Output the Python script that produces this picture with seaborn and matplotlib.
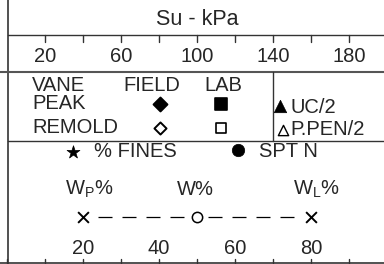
import numpy as np
import pandas as pd
import matplotlib.pyplot as plt
import seaborn as sns

# scales
su_ticks = [20, 40, 60, 80, 100, 120, 140, 160, 180]
su_labels = [20, 60, 100, 140, 180]
wc_ticks = [0, 10, 20, 30, 40, 50, 60, 70, 80, 90]
wc_labels = [20, 40, 60, 80]
# vane legend
vane_rows = ['PEAK', 'REMOLD']
vane_fill = ['black', 'white']
# Atterberg limits legend (W_P, W, W_L)
limit_vals = [20, 50, 80]
limit_names = [r'W$_\mathregular{P}$%', 'W%', r'W$_\mathregular{L}$%']

sns.set_style('white')
plt.rcParams['font.family'] = ['Liberation Sans', 'DejaVu Sans']
plt.rcParams['mathtext.fontset'] = 'custom'
plt.rcParams['mathtext.rm'] = 'Liberation Sans'

fig = plt.figure(figsize=(3.84, 2.64), dpi=100)
ax = fig.add_axes([0, 0, 1, 1])
px = lambda p: (p - 7) / 1.9   # pixel column -> Su value
ax.set_xlim(px(0), px(384))
ax.set_ylim(264, 0)
ax.axis('off')

lc = '#333333'
fs = 14.5

# frame
ax.plot([px(8), px(8)], [0, 264], color=lc, lw=1.2)
ax.plot([px(8), px(384)], [35, 35], color=lc, lw=1)
ax.plot([px(0), px(384)], [72, 72], color='#555555', lw=1.5)
ax.plot([140, 140], [72, 141], color=lc, lw=1)
ax.plot([px(8), px(384)], [141, 141], color=lc, lw=1)
ax.plot([px(0), px(384)], [263, 263], color=lc, lw=1.2)

# Su axis
ax.text(100, 25, 'Su - kPa', ha='center', va='baseline', fontsize=15.5)
for t in su_ticks:
    ax.plot([t, t], [35, 42], color=lc, lw=1)
for t in su_labels:
    ax.text(t, 62, str(t), ha='center', va='baseline', fontsize=fs)

# vane legend
ax.text(px(32), 91, 'VANE', ha='left', va='baseline', fontsize=fs)
ax.text(px(151.5), 91, 'FIELD', ha='center', va='baseline', fontsize=fs)
ax.text(px(223.5), 91, 'LAB', ha='center', va='baseline', fontsize=fs)
for i, row in enumerate(vane_rows):
    base = 109 + i * 24
    ax.text(px(32), base, row, ha='left', va='baseline', fontsize=fs)
    df = pd.DataFrame({'x': [px(160)], 'y': [base - 5.5]})
    sns.scatterplot(data=df, x='x', y='y', marker='D', s=50 if i == 0 else 38,
                    color=vane_fill[i], edgecolor='black', linewidth=1.4, ax=ax)
    sns.scatterplot(data=df.assign(x=px(220.5)), x='x', y='y', marker='s',
                    s=80 if i == 0 else 50,
                    color=vane_fill[i], edgecolor='black', linewidth=1.2, ax=ax)

sns.scatterplot(x=[px(280)], y=[106], marker='^', s=80, color='black',
                edgecolor='black', linewidth=0.5, ax=ax)
ax.text(px(290), 113, 'UC/2', ha='left', va='baseline', fontsize=fs)
sns.scatterplot(x=[px(282.5)], y=[130], marker='^', s=55, color='white',
                edgecolor='black', linewidth=1.0, ax=ax)
ax.text(px(290), 135, 'P.PEN/2', ha='left', va='baseline', fontsize=fs)

# fines / SPT
sns.scatterplot(x=[px(73)], y=[152], marker='*', s=95, color='black',
                edgecolor='black', linewidth=0.5, ax=ax)
ax.text(px(94), 157, '% FINES', ha='left', va='baseline', fontsize=fs)
sns.scatterplot(x=[px(238)], y=[150], marker='o', s=80, color='black',
                edgecolor='black', linewidth=0.5, ax=ax)
ax.text(px(259), 157, 'SPT N', ha='left', va='baseline', fontsize=fs)

# water content legend (Su = 2 * w on this sheet)
xs = [2 * w for w in limit_vals]
name_left = [65, 177, 293]
for name, p in zip(limit_names, name_left):
    ax.text(px(p), 195, name, ha='left', va='baseline', fontsize=fs)
for a, b in [(px(98), px(186)), (px(208), px(296))]:
    sns.lineplot(x=[a, b], y=[217, 217], color='black', lw=0.9, ax=ax)
    ax.lines[-1].set_dashes((11.2, 8.0))
sns.scatterplot(x=[xs[0], xs[2]], y=[217, 217], marker='x', s=60, color='black',
                linewidth=1.4, ax=ax)
sns.scatterplot(x=[xs[1]], y=[217], marker='o', s=55, color='white',
                edgecolor='black', linewidth=1.1, ax=ax)
for w in wc_labels:
    ax.text(2 * w, 254, str(w), ha='center', va='baseline', fontsize=fs)
for t in wc_ticks:
    ax.plot([2 * t, 2 * t], [259, 263], color=lc, lw=1)

ax.set_xlabel('')
ax.set_ylabel('')
fig.savefig('out.png', dpi=100)
